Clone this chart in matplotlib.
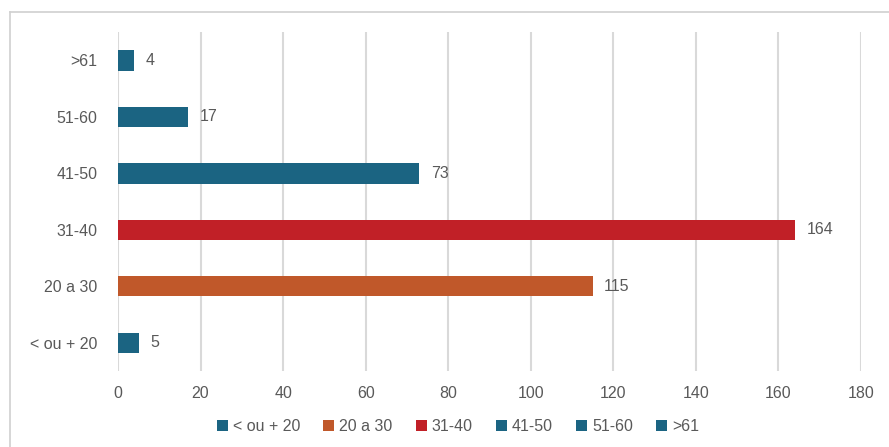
import matplotlib.pyplot as plt
from matplotlib.patches import Patch
from matplotlib.lines import Line2D

plt.rcParams['font.family'] = ['Liberation Sans', 'DejaVu Sans']

# age groups, bottom to top
CATEGORIES = ['< ou + 20', '20 a 30', '31-40', '41-50', '51-60', '>61']
COUNTS = [5, 115, 164, 73, 17, 4]
COLORS = ['#1B6482', '#C0582A', '#C12027', '#1B6482', '#1B6482', '#1B6482']
XTICKS = [0, 20, 40, 60, 80, 100, 120, 140, 160, 180]

TXT = '#595959'
GRID = '#D9D9D9'
FS = 11.5

fig = plt.figure(figsize=(8.89, 4.47), dpi=100)
ax = fig.add_axes([0.1327, 0.170, 0.8358, 0.758])

y = list(range(len(CATEGORIES)))
bars = ax.barh(y, COUNTS, height=0.36, color=COLORS, zorder=3)

for b, v in zip(bars, COUNTS):
    ax.text(b.get_width() + 2.8, b.get_y() + b.get_height() / 2, str(v),
            va='center', ha='left', fontsize=FS, color=TXT)

ax.set_xlim(0, 180)
ax.set_ylim(-0.5, len(CATEGORIES) - 0.5)
ax.set_xticks(XTICKS)
ax.set_yticks(y)
ax.set_yticklabels(CATEGORIES)
ax.grid(axis='x', color=GRID, linewidth=1.5, zorder=0)
ax.tick_params(axis='both', length=0, colors=TXT, labelsize=FS)
ax.tick_params(axis='x', pad=11)
ax.tick_params(axis='y', pad=15)
for s in ax.spines.values():
    s.set_visible(False)

# chart frame (left and top edges)
fig.add_artist(Line2D([0.0112, 0.0112], [0, 0.973], color='#D0D0D0', lw=1.2))
fig.add_artist(Line2D([0.0112, 1.0], [0.973, 0.973], color='#D0D0D0', lw=1.2))

handles = [Patch(facecolor=c, edgecolor='none') for c in COLORS]
fig.legend(handles, CATEGORIES, loc='center', bbox_to_anchor=(0.515, 0.045),
           ncol=6, frameon=False, fontsize=FS, labelcolor=TXT,
           handlelength=0.7, handleheight=0.7, handletextpad=0.3,
           columnspacing=1.45)

fig.savefig('out.png', dpi=100)
